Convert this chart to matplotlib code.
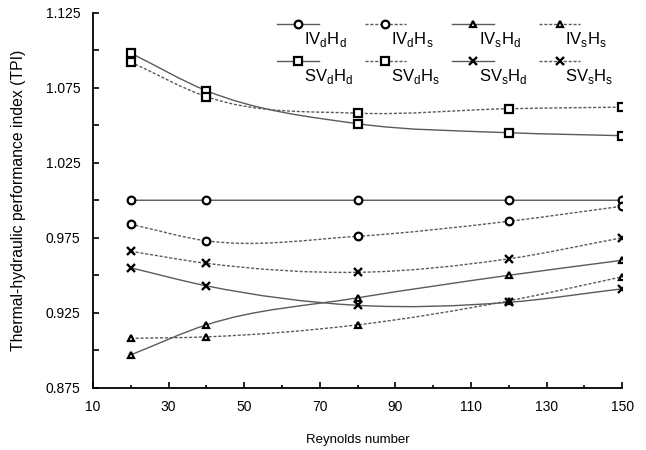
import numpy as np
import matplotlib.pyplot as plt
from matplotlib.path import Path
from matplotlib.patches import PathPatch
from matplotlib.lines import Line2D

plt.rcParams['font.family'] = ['Liberation Sans', 'DejaVu Sans']

# Reynolds numbers and TPI for each configuration
re = [20, 40, 80, 120, 150]
iv_d_hd = [1.000, 1.000, 1.000, 1.000, 1.000]
iv_d_hs = [0.984, 0.973, 0.976, 0.986, 0.996]
iv_s_hd = [0.897, 0.917, 0.935, 0.950, 0.960]
iv_s_hs = [0.908, 0.909, 0.917, 0.933, 0.949]
sv_d_hd = [1.098, 1.073, 1.051, 1.045, 1.043]
sv_d_hs = [1.092, 1.069, 1.058, 1.061, 1.062]
sv_s_hd = [0.955, 0.943, 0.930, 0.932, 0.941]
sv_s_hs = [0.966, 0.958, 0.952, 0.961, 0.975]

names = [r'IV$_\mathregular{d}$H$_\mathregular{d}$', r'IV$_\mathregular{d}$H$_\mathregular{s}$',
         r'IV$_\mathregular{s}$H$_\mathregular{d}$', r'IV$_\mathregular{s}$H$_\mathregular{s}$',
         r'SV$_\mathregular{d}$H$_\mathregular{d}$', r'SV$_\mathregular{d}$H$_\mathregular{s}$',
         r'SV$_\mathregular{s}$H$_\mathregular{d}$', r'SV$_\mathregular{s}$H$_\mathregular{s}$']
series = [iv_d_hd, iv_d_hs, iv_s_hd, iv_s_hs, sv_d_hd, sv_d_hs, sv_s_hd, sv_s_hs]
markers = ['o', 'o', '^', '^', 's', 's', 'x', 'x']

LINE_C = '#5a5a5a'
SOLID = '-'
DASH = (0, (2.2, 1.3))
MSIZE = {'o': 5.5, 's': 6, '^': 5, 'x': 5.8}


def smooth_path(x, y):
    # cubic Hermite segments as Bezier curves through the points
    x = np.asarray(x, float)
    y = np.asarray(y, float)
    d = np.diff(y) / np.diff(x)
    m = np.empty_like(y)
    m[0], m[-1] = d[0], d[-1]
    m[1:-1] = (d[:-1] * np.diff(x)[1:] + d[1:] * np.diff(x)[:-1]) / (x[2:] - x[:-2])
    verts = [(x[0], y[0])]
    codes = [Path.MOVETO]
    for i in range(len(x) - 1):
        h = x[i + 1] - x[i]
        verts += [(x[i] + h / 3, y[i] + m[i] * h / 3),
                  (x[i + 1] - h / 3, y[i + 1] - m[i + 1] * h / 3),
                  (x[i + 1], y[i + 1])]
        codes += [Path.CURVE4] * 3
    return Path(verts, codes)


fig = plt.figure(figsize=(6.46, 4.5), dpi=100)
ax = fig.add_axes([0.144, 0.138, 0.819, 0.834])

handles = []
for k, (vals, mk) in enumerate(zip(series, markers)):
    ls = SOLID if k % 2 == 0 else DASH
    ax.add_patch(PathPatch(smooth_path(re, vals), fill=False, edgecolor=LINE_C,
                           lw=1.0, linestyle=ls, zorder=2))
    style = dict(marker=mk, ms=MSIZE[mk], mfc='white' if mk != 'x' else 'black',
                 mec='black', mew=1.7 if mk == 'x' else 1.6)
    ax.plot(re, vals, linestyle='none', zorder=3, **style)
    handles.append(Line2D([], [], color=LINE_C, lw=1.0, linestyle=ls, **style))

ax.set_xlim(10, 150)
ax.set_ylim(0.875, 1.125)
ax.spines['top'].set_visible(False)
ax.spines['right'].set_visible(False)
ax.spines['left'].set_linewidth(1.3)
ax.spines['bottom'].set_linewidth(1.3)

ax.set_xticks(np.arange(10, 151, 20))
ax.set_xticks(np.arange(20, 150, 20), minor=True)
yt = np.arange(0.875, 1.1251, 0.025)
ax.set_yticks(yt)
ax.set_yticklabels(['%.3f' % v if i % 2 == 0 else '' for i, v in enumerate(yt)])
ax.tick_params(direction='in', labelsize=10, width=1.2, length=4)
ax.tick_params(axis='y', pad=9)
ax.tick_params(axis='x', pad=9)
ax.tick_params(axis='x', which='minor', direction='in', width=1.2, length=2.5)

ax.set_xlabel('Reynolds number', fontsize=9.5, labelpad=14)
ax.set_ylabel('Thermal-hydraulic performance index (TPI)', fontsize=11.3, labelpad=14)

order = [0, 4, 1, 5, 2, 6, 3, 7]
leg = fig.legend([handles[i] for i in order], [names[i] for i in order], ncol=4,
                 loc='upper left', bbox_to_anchor=(277 / 646, 1 - 16 / 450), frameon=False,
                 fontsize=12, handlelength=2.5, handletextpad=-0.9, columnspacing=0.7,
                 labelspacing=1.1, borderpad=0, borderaxespad=0)
for t in leg.get_texts():
    t.set_verticalalignment('top')

fig.savefig('out.png', dpi=100)
